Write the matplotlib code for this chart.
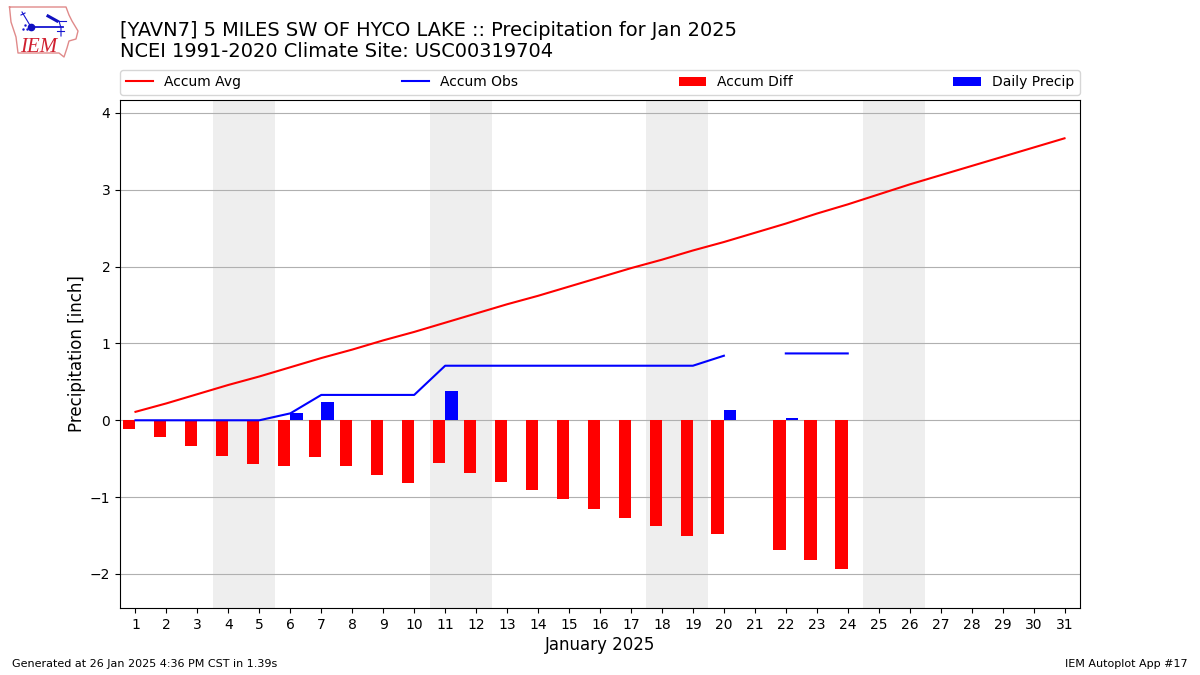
import matplotlib
matplotlib.use('Agg')
import matplotlib.pyplot as plt
import numpy as np

nan = np.nan
days = np.arange(1, 32)
accum_avg = [0.11, 0.22, 0.34, 0.46, 0.57, 0.69, 0.81, 0.92, 1.04, 1.15, 1.27,
             1.39, 1.51, 1.62, 1.74, 1.86, 1.98, 2.09, 2.21, 2.32, 2.44, 2.56,
             2.69, 2.81, 2.94, 3.07, 3.19, 3.31, 3.43, 3.55, 3.67]
accum_obs = [0, 0, 0, 0, 0, 0.09, 0.33, 0.33, 0.33, 0.33, 0.71, 0.71, 0.71,
             0.71, 0.71, 0.71, 0.71, 0.71, 0.71, 0.84, nan, 0.87, 0.87, 0.87,
             nan, nan, nan, nan, nan, nan, nan]
accum_diff = [-0.11, -0.22, -0.34, -0.46, -0.57, -0.60, -0.48, -0.59, -0.71,
              -0.82, -0.56, -0.68, -0.80, -0.91, -1.03, -1.15, -1.27, -1.38,
              -1.50, -1.48, nan, -1.69, -1.82, -1.94, nan, nan, nan, nan, nan,
              nan, nan]
daily = [0, 0, 0, 0, 0, 0.09, 0.24, 0, 0, 0, 0.38, 0, 0, 0, 0, 0, 0, 0, 0,
         0.13, 0, 0.03, 0, 0, 0, 0, 0, 0, 0, 0, 0]
weekends = [4, 11, 18, 25]

fig = plt.figure(figsize=(12, 6.75), dpi=100)
ax = fig.add_axes([0.1, 0.0993, 0.8, 0.7526])

for d in weekends:
    ax.axvspan(d - 0.5, d + 1.5, color='#eeeeee', lw=0, zorder=0)

ax.plot(days, accum_avg, color='r', label='Accum Avg', zorder=3)
ax.plot(days, accum_obs, color='b', label='Accum Obs', zorder=3)
ax.bar(days, accum_diff, width=-0.4, align='edge', color='r',
       label='Accum Diff', zorder=2)
ax.bar(days, daily, width=0.4, align='edge', color='b',
       label='Daily Precip', zorder=2)

ax.set_xlim(0.5, 31.5)
ax.set_ylim(-2.443, 4.169)
ax.set_xticks(days)
ax.set_yticks(range(-2, 5))
ax.grid(axis='y', color='#b0b0b0', zorder=1)
ax.set_axisbelow(True)
ax.set_xlabel('January 2025', fontsize=12, labelpad=3)
ax.set_ylabel('Precipitation [inch]', fontsize=12, labelpad=2.5)
ax.legend(bbox_to_anchor=(0, 1.01, 1, 0.05), loc='lower left', mode='expand',
          ncol=4, borderaxespad=0, fontsize=10)

fig.text(0.1, 0.91, '[YAVN7] 5 MILES SW OF HYCO LAKE :: Precipitation for Jan 2025\n'
         'NCEI 1991-2020 Climate Site: USC00319704', fontsize=13.98, va='bottom',
         linespacing=1.1)
fig.text(0.01, 0.0115, 'Generated at 26 Jan 2025 4:36 PM CST in 1.39s', fontsize=8)
fig.text(0.99, 0.0115, 'IEM Autoplot App #17', fontsize=8, ha='right')

# rough redraw of the logo, pixel coords
logo = fig.add_axes([0, 1 - 65 / 675, 90 / 1200, 65 / 675])
logo.set_xlim(0, 90)
logo.set_ylim(65, 0)
logo.axis('off')
outline_x = [9.5, 66, 69, 72, 78, 76, 69, 67, 64, 59, 18, 16, 11, 9.5]
outline_y = [7, 7, 15, 21, 31, 39, 41, 48, 57, 53, 53, 37, 22, 7]
logo.plot(outline_x, outline_y, color='#e08a8a', lw=1)
logo.plot([31, 63], [27, 27], color='#1515d0', lw=1.3)
logo.plot([22, 31], [12, 27], color='#1515d0', lw=0.8)
logo.plot([21, 25], [15, 13], color='#1515d0', lw=0.8)
logo.plot([48, 57], [16, 21], color='#1010c0', lw=2.2)
logo.plot([57, 66], [21, 21], color='#1515d0', lw=0.8)
logo.plot([59, 61, 61], [21, 28, 36], color='#1515d0', lw=0.8)
logo.plot([57, 64], [31, 31], color='#1515d0', lw=0.8)
logo.plot([31], [27], 'o', color='#1010c0', ms=4.5)
logo.plot([23, 25, 27], [29, 25, 29], '.', color='#1515d0', ms=1.5)
logo.text(20, 52, 'IEM', color='#d02030', fontsize=15, family='Liberation Serif',
          style='italic')

fig.savefig('out.png', dpi=100)
